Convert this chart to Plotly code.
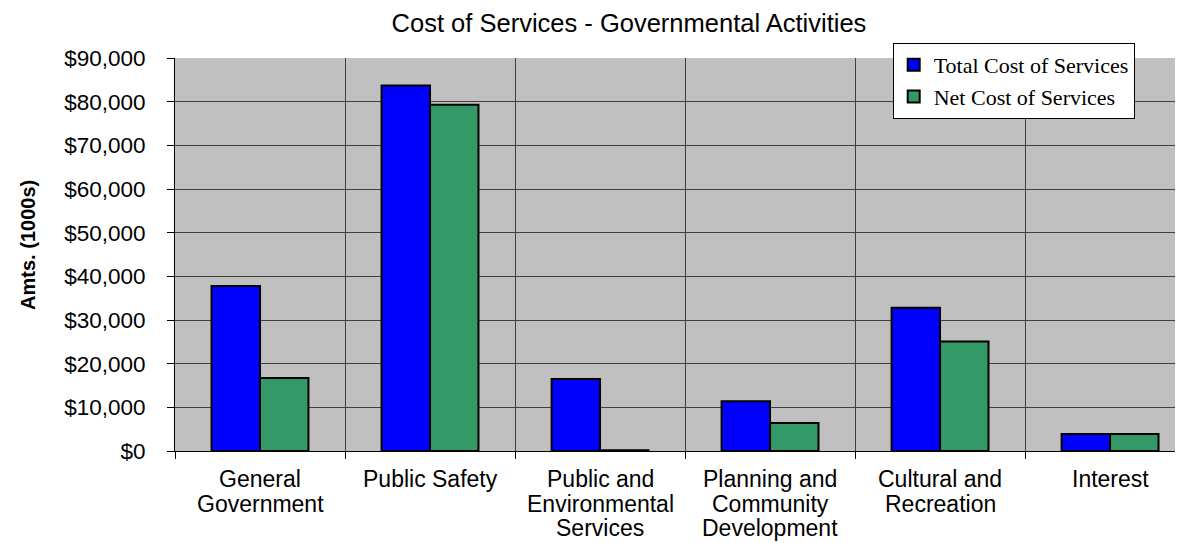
import plotly.graph_objects as go

categories = ["General Government", "Public Safety", "Public and Environmental Services",
              "Planning and Community Development", "Cultural and Recreation", "Interest"]
category_lines = [["General", "Government"], ["Public Safety"],
                  ["Public and", "Environmental", "Services"],
                  ["Planning and", "Community", "Development"],
                  ["Cultural and", "Recreation"], ["Interest"]]
total_cost = [37800, 83700, 16500, 11400, 32800, 3900]
net_cost = [16700, 79300, 150, 6400, 25100, 3900]
y_ticks = [0, 10000, 20000, 30000, 40000, 50000, 60000, 70000, 80000, 90000]

fig = go.Figure()
fig.add_trace(go.Bar(name="Total Cost of Services", x=categories, y=total_cost,
                     marker=dict(color="#0000FF", line=dict(color="black", width=2))))
fig.add_trace(go.Bar(name="Net Cost of Services", x=categories, y=net_cost,
                     marker=dict(color="#339966", line=dict(color="black", width=2))))

annotations = []
for cat, lines in zip(categories, category_lines):
    for i, line in enumerate(lines):
        annotations.append(dict(x=cat, xref="x", y=0, yref="paper", yanchor="middle",
                                yshift=-28 - 24.5 * i, text=line, showarrow=False,
                                font=dict(size=23)))
annotations.append(dict(x=-0.146, xref="paper", y=0.524, yref="paper", xanchor="center",
                        yanchor="middle", text="<b>Amts. (1000s)</b>", textangle=-90,
                        showarrow=False, font=dict(size=20)))

fig.update_layout(
    width=1175, height=535,
    margin=dict(l=167, r=0, t=50, b=92),
    paper_bgcolor="white", plot_bgcolor="#C0C0C0",
    barmode="group", bargap=0.43, bargroupgap=0,
    font=dict(family="Liberation Sans, Arial", size=22, color="black"),
    title=dict(text="Cost of Services - Governmental Activities", x=0.5285, xanchor="center",
               y=0.9715, yanchor="middle", font=dict(size=25.5)),
    legend=dict(x=0.712, y=1.038, xanchor="left", yanchor="top", bgcolor="white",
                bordercolor="black", borderwidth=1,
                font=dict(family="Liberation Serif, Times New Roman", size=22),
                tracegroupgap=0),
    showlegend=True,
    annotations=annotations,
)
fig.update_xaxes(
    type="category", range=[-0.5, 5.429], tickson="boundaries",
    showgrid=True, gridcolor="#404040", gridwidth=1,
    ticks="outside", ticklen=7, tickcolor="black",
    showline=True, linecolor="black", linewidth=1,
    showticklabels=False,
)
fig.update_yaxes(
    range=[0, 90000], tickvals=y_ticks, tickformat="$,.0f",
    showgrid=True, gridcolor="#404040", gridwidth=1,
    ticks="outside", ticklen=7, tickcolor="black",
    showline=True, linecolor="black", linewidth=1, zeroline=False,
    ticklabelstandoff=17, tickfont=dict(size=22.5),
)
fig.write_html("out.html")
